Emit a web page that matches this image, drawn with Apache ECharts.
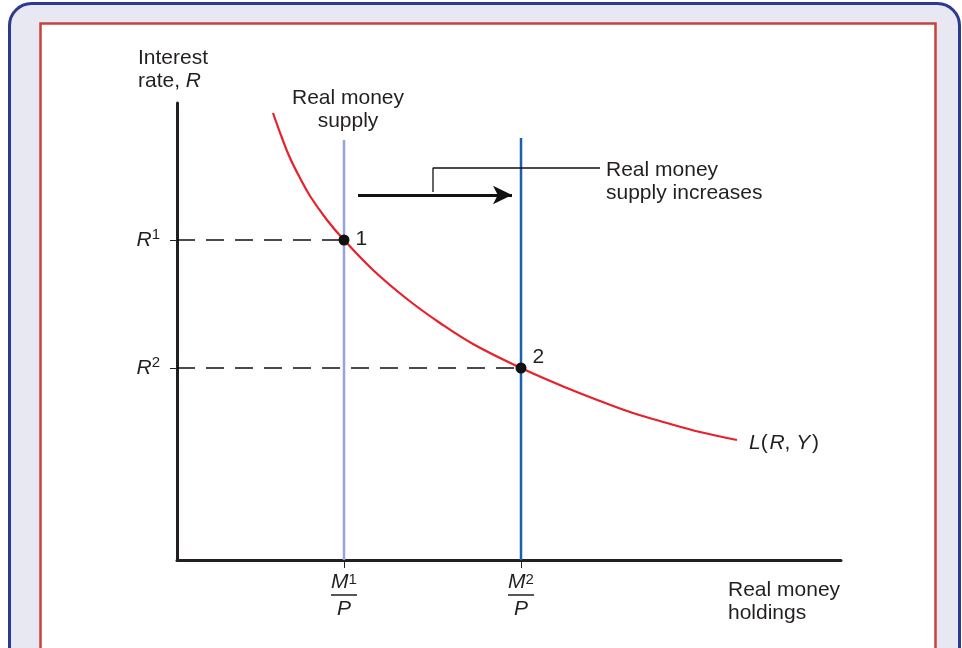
<!DOCTYPE html>
<html>
<head>
<meta charset="utf-8">
<script src="https://cdn.jsdelivr.net/npm/echarts@6/dist/echarts.min.js"></script>
<style>
html,body{margin:0;padding:0;background:#fff;}
#chart{width:962px;height:648px;}
</style>
</head>
<body>
<div id="chart"></div>
<script>
// ---- data (abstract units: x = real money holdings, y = interest rate) ----
const xRange = [0, 664];
const yRange = [0, 457];
const supplyValues = [167, 344];          // M1/P, M2/P
const supplyTickLabels = ['1', '2'];      // superscripts on M/P
const rateValues = [320, 192];            // R1, R2
const rateTickLabels = ['1', '2'];        // superscripts on R
const supplyTop = 420;                    // top of vertical supply lines
const demandX = [96, 105, 113, 123, 133, 150, 167, 196, 230, 263, 296, 344, 390, 423, 456, 490, 523, 560];
const demandY = [447, 422, 402, 382, 364, 340, 320, 290, 261, 237, 216, 192, 172, 159, 147, 137, 128, 120];
const eqLabels = ['1', '2'];
const arrowFrom = [181, 365];
const arrowTo = [335, 365];
const calloutPath = [[256, 368], [256, 392], [423, 392]];

const FONT = '"Liberation Sans", Arial, Helvetica, sans-serif';
const TXT = '#231f20';
const FS = 21;

const chart = echarts.init(document.getElementById('chart'), null, {renderer: 'canvas'});

const demandData = demandX.map((x, i) => [x, demandY[i]]);

const option = {
  animation: false,
  textStyle: {fontFamily: FONT},
  graphic: [
    {type: 'rect', z: -10, shape: {x: 9.5, y: 3.5, width: 950, height: 720, r: 22},
     style: {fill: '#e8e8f3', stroke: '#2b3990', lineWidth: 3}},
    {type: 'rect', z: -9, shape: {x: 40.5, y: 23.5, width: 895, height: 720},
     style: {fill: '#ffffff', stroke: '#c8413d', lineWidth: 2.5}},
    {type: 'text', left: 138, top: 47, z: 10,
     style: {text: 'Interest\n{t|rate, }{i|R}', font: FS + 'px ' + FONT, fill: TXT, lineHeight: 23,
             rich: {t: {fontSize: FS, fill: TXT, lineHeight: 23}, i: {fontSize: FS, fontStyle: 'italic', fill: TXT, lineHeight: 23}}}},
    {type: 'text', x: 348, y: 87, z: 10,
     style: {text: 'Real money\nsupply', font: FS + 'px ' + FONT, fill: TXT, lineHeight: 23,
             align: 'center', verticalAlign: 'top'}},
    {type: 'text', left: 606, top: 159, z: 10,
     style: {text: 'Real money\nsupply increases', font: FS + 'px ' + FONT, fill: TXT, lineHeight: 23}},
    {type: 'text', left: 728, top: 579, z: 10,
     style: {text: 'Real money\nholdings', font: FS + 'px ' + FONT, fill: TXT, lineHeight: 23}},
    {type: 'text', left: 749, top: 433, z: 10,
     style: {text: '{i|L}(\u200a{i|R}, {i|Y}\u200a)', font: FS + 'px ' + FONT, fill: TXT,
             rich: {i: {fontStyle: 'italic', fontSize: FS, fill: TXT}}}}
  ],
  grid: {left: 177, right: 121, top: 103, bottom: 88, containLabel: false},
  xAxis: {
    type: 'value', min: xRange[0], max: xRange[1],
    splitLine: {show: false},
    axisLine: {show: true, onZero: false, lineStyle: {color: '#231f20', width: 3}},
    axisTick: {show: true, customValues: supplyValues, length: 8, inside: false,
               lineStyle: {color: '#231f20', width: 1}},
    axisLabel: {
      show: true, customValues: supplyValues, margin: 12,
      formatter: v => '{m|M}{s|' + supplyTickLabels[supplyValues.indexOf(v)] + '}\n{bar|}\n{p|P}',
      rich: {
        m: {fontSize: FS, fontStyle: 'italic', color: TXT, lineHeight: 20, fontFamily: FONT},
        s: {fontSize: 15, color: TXT, verticalAlign: 'top', lineHeight: 20, padding: [0, 0, 10, 0], fontFamily: FONT},
        bar: {width: 26, height: 1.5, backgroundColor: TXT, lineHeight: 6},
        p: {fontSize: FS, fontStyle: 'italic', color: TXT, lineHeight: 22, fontFamily: FONT}
      }
    }
  },
  yAxis: {
    type: 'value', min: yRange[0], max: yRange[1],
    splitLine: {show: false},
    axisLine: {show: true, onZero: false, lineStyle: {color: '#231f20', width: 3}},
    axisTick: {show: true, customValues: rateValues, length: 7,
               lineStyle: {color: '#231f20', width: 1}},
    axisLabel: {
      show: true, customValues: rateValues, margin: 17,
      formatter: v => '{r|R}{s|' + rateTickLabels[rateValues.indexOf(v)] + '}',
      rich: {
        r: {fontSize: FS, fontStyle: 'italic', color: TXT, fontFamily: FONT},
        s: {fontSize: 15, color: TXT, padding: [0, 0, 10, 0], fontFamily: FONT}
      }
    }
  },
  series: [
    // dashed guide lines from y-axis to equilibria
    {type: 'line', z: 1, symbol: 'none', silent: true,
     data: [[xRange[0], rateValues[0]], [supplyValues[0], rateValues[0]]],
     lineStyle: {color: '#111111', width: 1.5, type: [18, 11], opacity: 1}},
    {type: 'line', z: 1, symbol: 'none', silent: true,
     data: [[xRange[0], rateValues[1]], [supplyValues[1], rateValues[1]]],
     lineStyle: {color: '#111111', width: 1.5, type: [18, 11], opacity: 1}},
    // supply lines
    {type: 'line', z: 2, symbol: 'none', silent: true,
     data: [[supplyValues[0], yRange[0]], [supplyValues[0], supplyTop]],
     lineStyle: {color: '#96a3dc', width: 2.5}},
    {type: 'line', z: 2, symbol: 'none', silent: true,
     data: [[supplyValues[1], yRange[0]], [supplyValues[1], supplyTop + 2]],
     lineStyle: {color: '#1c5fb0', width: 2.5}},
    // money demand curve
    {type: 'line', z: 3, symbol: 'none', smooth: 0.4, silent: true,
     data: demandData, lineStyle: {color: '#e8202a', width: 2.2}},
    // callout line
    {type: 'line', z: 3, symbol: 'none', silent: true,
     data: calloutPath, lineStyle: {color: '#111111', width: 1.3}},
    // arrow
    {type: 'line', z: 3, symbol: 'none', silent: true, data: [],
     markLine: {silent: true, symbol: ['none', 'arrow'], symbolSize: [14, 19],
                label: {show: false},
                lineStyle: {color: '#111111', width: 2.8, type: 'solid'},
                data: [[{coord: arrowFrom}, {coord: arrowTo}]]}},
    // equilibrium points
    {type: 'scatter', z: 5, symbol: 'circle', symbolSize: 11, silent: true,
     itemStyle: {color: '#111111', opacity: 1},
     data: [
       {value: [supplyValues[0], rateValues[0]],
        label: {show: true, formatter: eqLabels[0], position: 'right', distance: 6, offset: [0, -1]}},
       {value: [supplyValues[1], rateValues[1]],
        label: {show: true, formatter: eqLabels[1], position: 'right', distance: 6, offset: [0, -11]}}
     ],
     label: {fontSize: FS, color: TXT, fontFamily: FONT}}
  ]
};
chart.setOption(option);
</script>
</body>
</html>
